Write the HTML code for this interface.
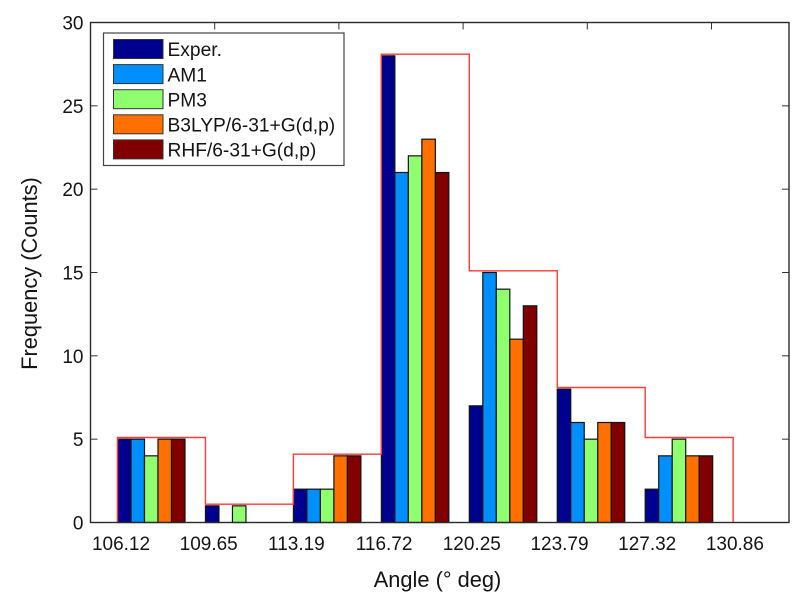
<!DOCTYPE html>
<html>
<head>
<meta charset="utf-8">
<style>
html,body{margin:0;padding:0;background:#fff;width:800px;height:600px;overflow:hidden}
svg{display:block;filter:blur(0.35px)}
text{font-family:"Liberation Sans",sans-serif;fill:#141414}
</style>
</head>
<body>
<svg id="chart" xmlns="http://www.w3.org/2000/svg" width="800" height="600" viewBox="0 0 800 600"></svg>
<script>
var binLabels = ['106.12','109.65','113.19','116.72','120.25','123.79','127.32','130.86'];
var seriesNames = ['Exper.','AM1','PM3','B3LYP/6-31+G(d,p)','RHF/6-31+G(d,p)'];
var seriesKeys = ['exper','am1','pm3','b3lyp','rhf'];
var seriesColors = ['#00008f','#008fff','#8fff70','#ff7000','#800000'];
var experValues = [5,1,2,28,7,8,2];
var am1Values = [5,0,2,21,15,6,4];
var pm3Values = [4,1,2,22,14,5,5];
var b3lypValues = [5,0,4,23,11,6,4];
var rhfValues = [5,0,4,21,13,6,4];
var envelopeValues = [5.1,1.1,4.1,28.1,15.1,8.1,5.1];
var yTicks = [0,5,10,15,20,25,30];
var allSeries = [experValues,am1Values,pm3Values,b3lypValues,rhfValues];

var svg = document.getElementById('chart');
var NS = 'http://www.w3.org/2000/svg';
var L = 90.5, R = 789, T = 22.5, B = 522.5;
function yScale(v){ return B - v * (B - T) / 30; }
function binX(i){ return 117.5 + i * 87.95; }
function barX(i, s){ return binX(i) + s * 13.5; }
function labelX(i){ return 121 + i * 87.7; }
function tickX(k){ return L + k * 124.2; }

function make(tag, attrs, text){
  var el = document.createElementNS(NS, tag);
  for (var k in attrs) el.setAttribute(k, attrs[k]);
  if (text !== undefined) el.textContent = text;
  svg.appendChild(el);
  return el;
}

var el, i, s, k;

el = make('rect', {x:L, y:T, width:R-L, height:B-T, fill:'#fff', stroke:'none'});



// x tick marks (top edge)
for (k = 1; k <= 5; k++) {
  el = make('line', {x1:tickX(k), x2:tickX(k), y1:T, y2:T+7, stroke:'#333', 'stroke-width':1});
  
  
}

// y ticks and labels
yTicks.forEach(function(v){
  var t;
  t = make('line', {x1:L, x2:L+7, y1:yScale(v), y2:yScale(v), stroke:'#333', 'stroke-width':1});
  
  
  t = make('line', {x1:R, x2:R-7, y1:yScale(v), y2:yScale(v), stroke:'#333', 'stroke-width':1});
  
  
  t = make('text', {x:83.5, y:yScale(v)+7, 'text-anchor':'end', 'font-size':19}, String(v));
  
  
});

// bars
for (s = 0; s < allSeries.length; s++) {
  for (i = 0; i < allSeries[s].length; i++) {
    if (allSeries[s][i] <= 0) continue;
    el = make('rect', {
      x: barX(i, s),
      y: yScale(allSeries[s][i]),
      width: 13.5,
      height: B - yScale(allSeries[s][i]),
      fill: seriesColors[s],
      stroke: '#141414',
      'stroke-width': 1.2
    });
    
    
  }
}

// red stepped envelope
var d = 'M' + binX(0) + ' ' + yScale(0);
envelopeValues.forEach(function(v, n){
  d += ' L' + binX(n) + ' ' + yScale(v) + ' L' + binX(n + 1) + ' ' + yScale(v);
});
d += ' L' + binX(envelopeValues.length) + ' ' + yScale(0);
el = make('path', {d:d, fill:'none', stroke:'#ff3a3a', 'stroke-width':1.4});



// axes box
el = make('rect', {x:L, y:T, width:R-L, height:B-T, fill:'none', stroke:'#2a2a2a', 'stroke-width':1.4});



// x tick labels
binLabels.forEach(function(lab, n){
  var t = make('text', {x:labelX(n), y:550, 'text-anchor':'middle', 'font-size':19}, lab);
  
  
});

// axis titles
el = make('text', {x:437.5, y:587, 'text-anchor':'middle', 'font-size':21.8}, 'Angle (\u00b0 deg)');



el = make('text', {x:0, y:0, 'text-anchor':'middle', 'font-size':21.8, transform:'translate(37 273.5) rotate(-90)'}, 'Frequency (Counts)');



// legend
el = make('rect', {x:103.5, y:33, width:240.5, height:132.5, fill:'#fff', stroke:'#444', 'stroke-width':1.2});



seriesNames.forEach(function(name, n){
  var top = 39.5 + n * 25.1;
  var t = make('rect', {x:113.5, y:top, width:49.5, height:19, fill:seriesColors[n], stroke:'#333', 'stroke-width':1});
  
  
  t = make('text', {x:167.5, y:top+16.7, 'font-size':19.2}, name);
  
  
});
</script>
</body>
</html>
